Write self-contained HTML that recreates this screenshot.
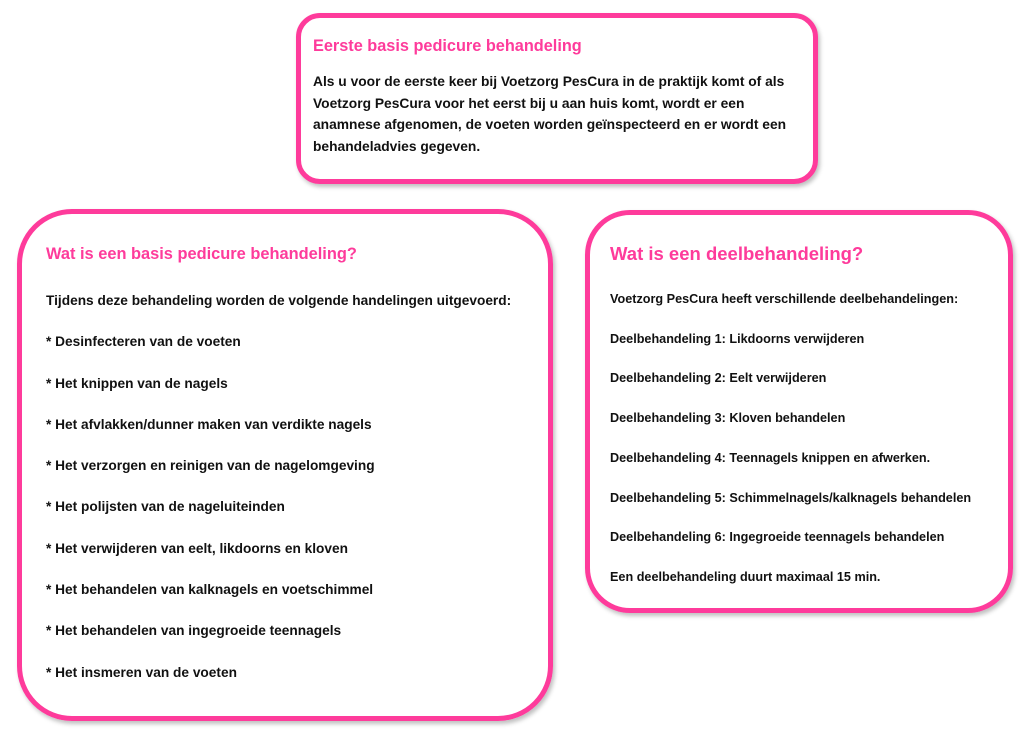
<!DOCTYPE html>
<html><head><meta charset="utf-8"><style>
body{margin:0;width:1024px;height:743px;background:#fff;position:relative;overflow:hidden;font-family:"Liberation Sans",sans-serif;font-weight:bold;color:#111}
.box{position:absolute;border:5px solid #fe3b9b;box-sizing:border-box;box-shadow:2px 3px 4px rgba(0,0,0,0.25)}
.t{position:absolute;white-space:nowrap}
.h{color:#fe3b9b;line-height:20px}
</style></head><body>
<div class="box" style="left:296px;top:13px;width:522px;height:171px;border-radius:24px"></div>
<div class="box" style="left:17px;top:209px;width:536px;height:512px;border-radius:55px"></div>
<div class="box" style="left:585px;top:210px;width:428px;height:403px;border-radius:45px"></div>

<div class="t h" style="left:313px;top:36px;font-size:16.3px">Eerste basis pedicure behandeling</div>
<div class="t" style="left:313px;top:71px;font-size:13.8px;line-height:21.7px">Als u voor de eerste keer bij Voetzorg PesCura in de praktijk komt of als<br>Voetzorg PesCura voor het eerst bij u aan huis komt, wordt er een<br>anamnese afgenomen, de voeten worden geïnspecteerd en er wordt een<br>behandeladvies gegeven.</div>

<div class="t h" style="left:46px;top:244px;font-size:16.4px">Wat is een basis pedicure behandeling?</div>
<div class="t" style="left:46px;top:280px;font-size:13.7px;line-height:41.3px">Tijdens deze behandeling worden de volgende handelingen uitgevoerd:<br>* Desinfecteren van de voeten<br>* Het knippen van de nagels<br>* Het afvlakken/dunner maken van verdikte nagels<br>* Het verzorgen en reinigen van de nagelomgeving<br>* Het polijsten van de nageluiteinden<br>* Het verwijderen van eelt, likdoorns en kloven<br>* Het behandelen van kalknagels en voetschimmel<br>* Het behandelen van ingegroeide teennagels<br>* Het insmeren van de voeten</div>

<div class="t h" style="left:610px;top:244px;font-size:18.5px">Wat is een deelbehandeling?</div>
<div class="t" style="left:610px;top:280px;font-size:12.65px;line-height:39.7px">Voetzorg PesCura heeft verschillende deelbehandelingen:<br>Deelbehandeling 1: Likdoorns verwijderen<br>Deelbehandeling 2: Eelt verwijderen<br>Deelbehandeling 3: Kloven behandelen<br>Deelbehandeling 4: Teennagels knippen en afwerken.<br>Deelbehandeling 5: Schimmelnagels/kalknagels behandelen<br>Deelbehandeling 6: Ingegroeide teennagels behandelen<br>Een deelbehandeling duurt maximaal 15 min.</div>
</body></html>
